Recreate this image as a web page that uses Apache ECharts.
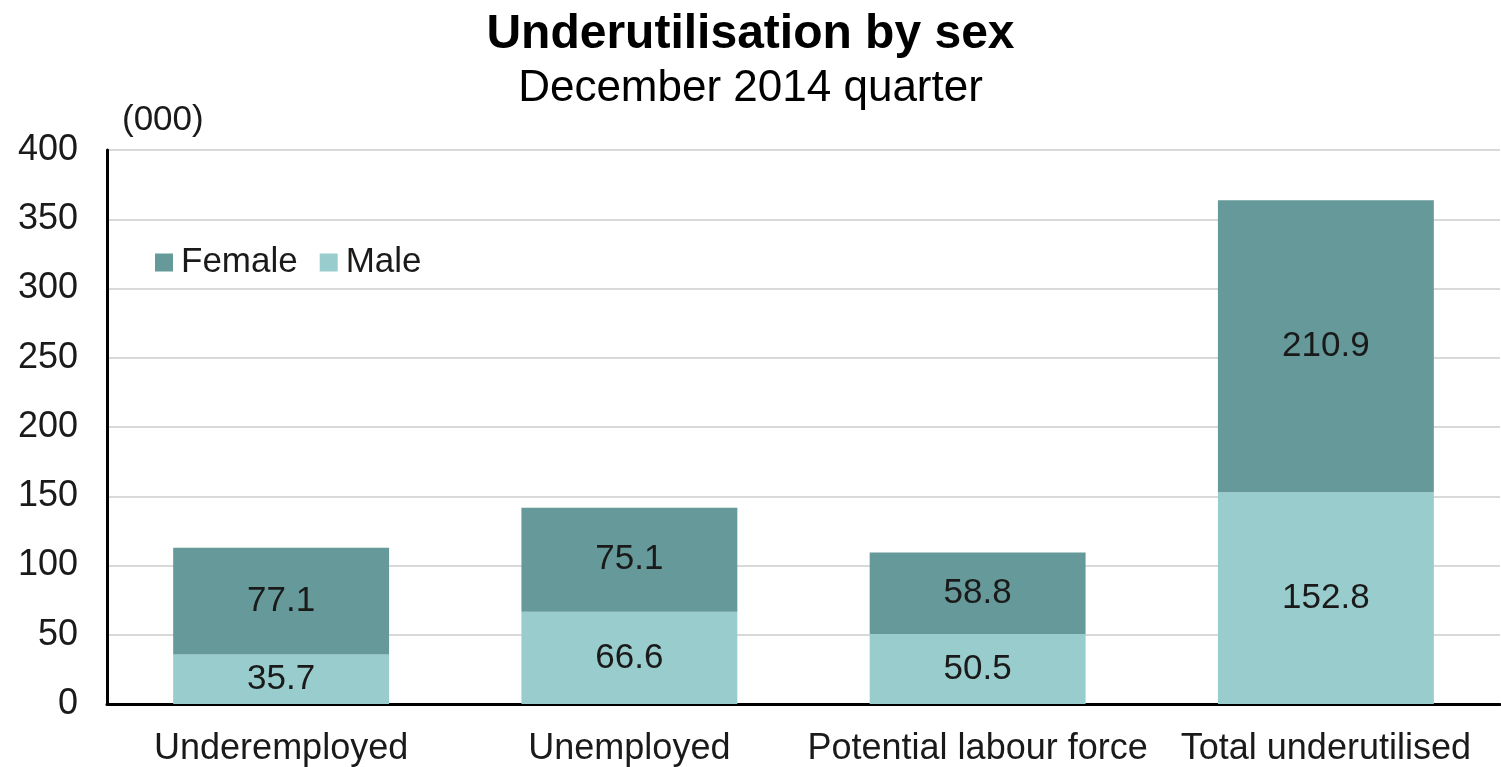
<!DOCTYPE html>
<html><head><meta charset="utf-8">
<script src="https://cdn.jsdelivr.net/npm/echarts@6/dist/echarts.min.js"></script>
<style>html,body{margin:0;padding:0;background:#fff}#c{width:1501px;height:767px}</style>
</head><body><div id="c"></div>
<script>
var categories = ['Underemployed', 'Unemployed', 'Potential labour force', 'Total underutilised'];
var maleValues = [35.7, 66.6, 50.5, 152.8];
var femaleValues = [77.1, 75.1, 58.8, 210.9];
var titleText = 'Underutilisation by sex';
var subtitleText = 'December 2014 quarter';
var unitText = '(000)';

var FONT = '"Liberation Sans", Arial, sans-serif';
var chart = echarts.init(document.getElementById('c'));
var lbl = {show: true, position: 'inside', color: '#1a1a1a', fontSize: 35, fontFamily: FONT,
  formatter: function (p) { return p.value.toFixed(1); }};
chart.setOption({
  animation: false,
  title: {
    text: titleText, subtext: subtitleText, left: 'center', top: 6, itemGap: 8,
    textStyle: {fontFamily: FONT, fontSize: 48, fontWeight: 'bold', color: '#000'},
    subtextStyle: {fontFamily: FONT, fontSize: 44, color: '#000'}
  },
  legend: {
    left: 150, top: 240, itemWidth: 18, itemHeight: 18, itemGap: 22,
    data: ['Female', 'Male'],
    textStyle: {fontFamily: FONT, fontSize: 35, color: '#1a1a1a', padding: [0, 0, 0, 3]},
    icon: 'rect'
  },
  grid: {left: 107, right: 1, top: 150, bottom: 59, containLabel: false},
  xAxis: {
    type: 'category', data: categories,
    axisLine: {lineStyle: {color: '#000', width: 3}},
    axisTick: {show: false},
    axisLabel: {fontFamily: FONT, fontSize: 36, color: '#1a1a1a', margin: 27, interval: 0}
  },
  yAxis: {
    type: 'value', min: 0, max: 400, interval: 50,
    name: unitText, nameLocation: 'end', nameGap: 12,
    nameTextStyle: {fontFamily: FONT, fontSize: 35, color: '#1a1a1a', align: 'left', padding: [0, 0, 0, 15]},
    axisLine: {show: true, lineStyle: {color: '#000', width: 3}},
    axisTick: {show: false},
    splitLine: {lineStyle: {color: '#d9d9d9', width: 2}},
    axisLabel: {fontFamily: FONT, fontSize: 36, color: '#1a1a1a', margin: 29}
  },
  series: [
    {name: 'Male', type: 'bar', stack: 's', data: maleValues, barWidth: '62%',
     itemStyle: {color: '#99cccc'}, label: lbl},
    {name: 'Female', type: 'bar', stack: 's', data: femaleValues, barWidth: '62%',
     itemStyle: {color: '#669999'}, label: lbl}
  ]
});
</script></body></html>
